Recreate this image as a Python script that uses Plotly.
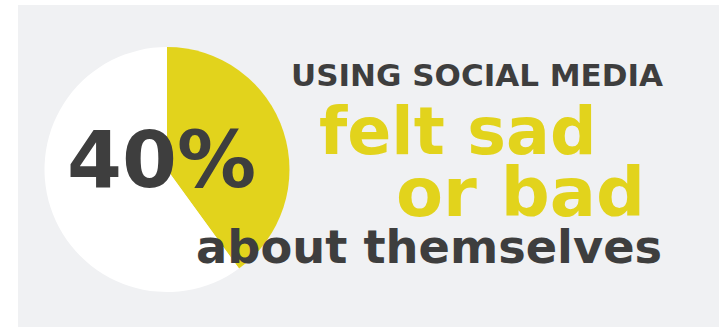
import plotly.graph_objects as go

W, H = 726, 327
labels = ["felt sad or bad", "did not"]
values = [40, 60]
colors = ["#E2D31C", "#FFFFFF"]

texts = ["40%", "USING SOCIAL MEDIA", "felt sad", "or bad", "about themselves"]
text_colors = ["#3E3E3E", "#3E3E3E", "#E2D31C", "#E2D31C", "#3E3E3E"]
text_sizes = [79, 31, 65, 68.5, 46.3]
text_x_px = [65, 289, 317, 394, 194]
text_y_px = [160, 75, 131.5, 191.5, 247]

FONT = "DejaVu Sans"

fig = go.Figure()
fig.add_trace(go.Pie(
    labels=labels, values=values, sort=False, direction="clockwise", rotation=0,
    marker=dict(colors=colors, line=dict(width=0)),
    textinfo="none", hoverinfo="skip", showlegend=False,
    domain=dict(x=[44.5 / W, 289.5 / W], y=[1 - 292 / H, 1 - 47 / H]),
))

fig.add_shape(type="rect", xref="paper", yref="paper",
              x0=18 / W, x1=719 / W, y0=0, y1=1 - 5 / H,
              fillcolor="#F0F1F3", line=dict(width=0), layer="below")

for t, c, s, x, y in zip(texts, text_colors, text_sizes, text_x_px, text_y_px):
    fig.add_annotation(text=t, xref="paper", yref="paper", x=x / W, y=1 - y / H,
                       xanchor="left", yanchor="middle", showarrow=False,
                       font=dict(family=FONT, size=s, color=c, weight="bold"))

fig.update_layout(width=W, height=H, margin=dict(l=0, r=0, t=0, b=0),
                  paper_bgcolor="#FFFFFF", plot_bgcolor="#FFFFFF")
fig.write_html("out.html")
